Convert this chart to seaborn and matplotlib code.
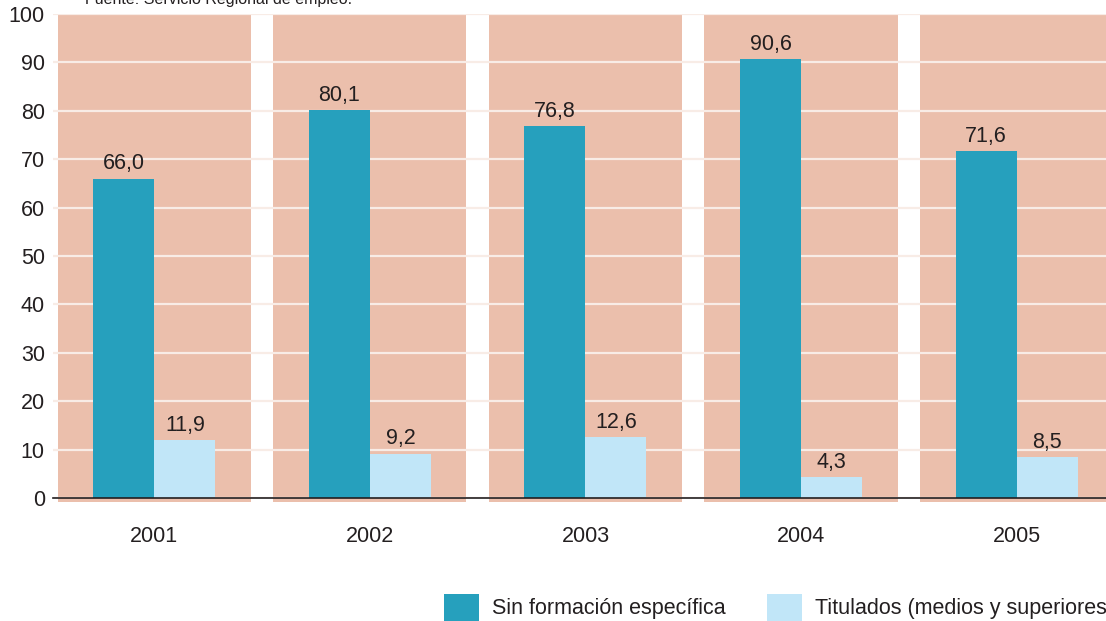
import pandas as pd
import seaborn as sns
import matplotlib
matplotlib.use('agg')
import matplotlib.pyplot as plt

# data
years = ['2001', '2002', '2003', '2004', '2005']
sin_formacion = [66.0, 80.1, 76.8, 90.6, 71.6]
titulados = [11.9, 9.2, 12.6, 4.3, 8.5]
series_names = ['Sin formación específica', 'Titulados (medios y superiores']
yticks = list(range(0, 101, 10))

teal = '#26A0BD'
light = '#C1E6F8'
panel = '#EBBFAC'
ink = '#231F20'

df = pd.DataFrame({
    'year': years * 2,
    'value': sin_formacion + titulados,
    'serie': [series_names[0]] * len(years) + [series_names[1]] * len(years),
})

sns.set_theme(style="white")
plt.rcParams['font.family'] = ['Liberation Sans', 'DejaVu Sans']

fig = plt.figure(figsize=(11.06, 6.21), dpi=100)
ax = fig.add_axes([0.048, 0.198, 0.952, 0.7795])

# pink background panel behind each year group
for i in range(len(years)):
    ax.fill_between([i - 0.448, i + 0.448], -0.8, 100, color=panel,
                    linewidth=0, zorder=0.1, clip_on=False)

chart = sns.barplot(
    data=df,
    x='year',
    y='value',
    hue='serie',
    palette=[teal, light],
    width=0.566,
    saturation=1,
    linewidth=0,
    ax=ax,
)

# value labels with decimal comma
for cont in ax.containers:
    vals = [b.get_height() for b in cont]
    ax.bar_label(cont, labels=[f"{v:.1f}".replace('.', ',') for v in vals],
                 padding=3, fontsize=15.5, color=ink)

ax.set_xlim(-0.47, 4.415)
ax.set_ylim(0, 100)
ax.set_yticks(yticks)
ax.set_yticklabels([str(t) for t in yticks], fontsize=15.5, color=ink)
ax.tick_params(axis='y', length=0, pad=6)
ax.tick_params(axis='x', length=0, pad=20, labelsize=15.5, labelcolor=ink)
ax.set_xlabel('')
ax.set_ylabel('')

ax.set_axisbelow(True)
ax.yaxis.grid(True, color='#F8ECE6', linewidth=1.6)
ax.xaxis.grid(False)
for s in ['top', 'right', 'left']:
    ax.spines[s].set_visible(False)
ax.spines['bottom'].set_color(ink)
ax.spines['bottom'].set_linewidth(1.2)
ax.spines['bottom'].set_zorder(3)

handles, labels = ax.get_legend_handles_labels()
ax.get_legend().remove()
fig.legend(handles, labels, ncol=2, frameon=False, fontsize=15.5,
           loc='center left', bbox_to_anchor=(0.401, 0.022),
           handlelength=1.63, handleheight=1.55, handletextpad=0.6,
           columnspacing=1.95, borderaxespad=0, borderpad=0, labelcolor=ink)

fig.text(0.077, 1.0 - 4 / 621, 'Fuente: Servicio Regional de empleo.',
         fontsize=11.5, color=ink, va='baseline', ha='left')

fig.savefig('out.png', dpi=100)
